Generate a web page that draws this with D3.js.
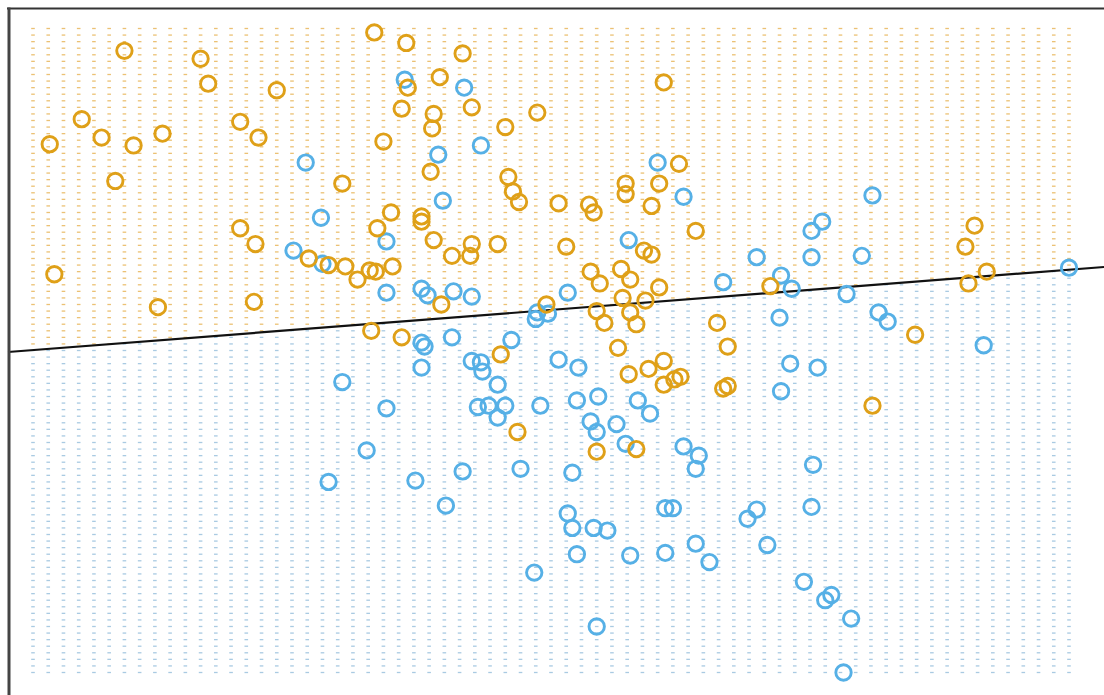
<!DOCTYPE html>
<html>
<head>
<meta charset="utf-8">
<script src="https://cdn.jsdelivr.net/npm/d3@7"></script>
<style>
  html, body { margin: 0; padding: 0; background: #fff; }
  svg { display: block; }
</style>
</head>
<body>
<svg id="chart" width="1104" height="695"></svg>
<script>
// Two-class mixture sample: X1 / X2 coordinates of each training point
const orangeX1 = [-0.36,-0.15,0.22,-2.00,-1.50,-1.45,-1.00,0.07,-0.14,1.54,
  -2.28,-2.15,-1.94,-1.75,-2.49,-1.24,-1.12,-0.18,0.03,0.02,
  0.28,0.71,0.50,-0.30,-2.06,-0.57,0.01,0.52,0.55,0.59,
  0.85,1.05,1.08,1.29,1.29,1.51,1.64,1.46,-0.25,-0.05,
  -0.05,-0.34,-1.24,-1.14,0.03,0.15,0.28,0.27,0.45,0.90,
  1.41,1.46,1.75,-2.46,-0.79,-0.66,-0.55,-0.47,-0.39,-0.35,
  -0.24,-1.78,-1.15,0.08,1.06,1.26,1.32,1.12,1.51,1.27,
  1.42,1.10,1.32,1.15,1.36,0.77,-0.38,-0.18,0.47,1.89,
  1.96,1.24,1.54,1.44,1.31,1.54,1.61,1.65,1.93,1.96,
  2.91,0.58,1.10,1.36,3.58,3.52,3.66,3.54,3.19,2.24];
const orangeX2 = [2.87,2.79,2.71,2.73,2.67,2.48,2.43,2.53,2.45,2.49,
  2.21,2.07,2.01,2.10,2.02,2.19,2.07,2.29,2.25,2.14,
  2.30,2.26,2.15,2.04,1.74,1.72,1.81,1.77,1.66,1.58,
  1.57,1.56,1.50,1.72,1.64,1.72,1.87,1.55,1.50,1.47,
  1.43,1.38,1.38,1.26,1.29,1.17,1.26,1.17,1.26,1.24,
  1.21,1.18,1.36,1.03,1.15,1.10,1.09,0.99,1.06,1.05,
  1.09,0.78,0.82,0.80,1.05,1.07,0.99,0.96,0.93,0.85,
  0.83,0.75,0.74,0.66,0.65,0.80,0.60,0.55,0.42,0.66,
  0.48,0.47,0.37,0.31,0.27,0.19,0.23,0.25,0.16,0.18,
  0.03,-0.17,-0.32,-0.30,1.40,1.24,1.05,0.96,0.57,0.94];

const blueX1 = [-0.16,0.23,-0.81,0.06,0.34,1.50,1.67,0.09,-0.71,-0.28,
  1.31,-0.89,2.91,2.58,2.51,2.15,2.51,2.84,2.31,1.93,
  2.38,2.74,4.20,-0.28,-0.05,-0.01,0.16,0.28,0.91,0.71,
  0.78,0.70,2.95,3.01,2.30,0.15,-0.05,-0.03,0.54,3.64,
  -0.05,-0.57,0.28,0.34,0.35,0.85,0.98,0.45,2.37,2.55,
  2.31,-0.28,0.32,0.39,0.50,0.73,0.97,1.11,1.37,1.45,
  0.45,1.06,1.10,1.23,1.29,1.67,1.77,1.75,-0.41,0.22,
  0.60,0.94,2.52,-0.66,-0.09,0.11,0.91,0.94,1.08,1.17,
  1.55,1.60,2.15,2.09,2.51,0.97,1.32,1.55,1.75,1.84,
  2.22,0.69,2.46,2.64,2.60,2.77,1.10,2.72,-0.70];
const blueX2 = [2.51,2.45,1.88,1.94,2.01,1.88,1.62,1.59,1.46,1.28,
  1.29,1.21,1.63,1.43,1.36,1.16,1.16,1.17,1.02,0.97,
  0.92,0.88,1.08,0.89,0.92,0.87,0.90,0.86,0.89,0.74,
  0.73,0.69,0.74,0.67,0.70,0.55,0.51,0.48,0.53,0.49,
  0.32,0.21,0.37,0.36,0.29,0.38,0.32,0.19,0.35,0.32,
  0.14,0.01,0.02,0.03,0.03,0.03,0.07,0.10,0.07,-0.03,
  -0.06,-0.09,-0.17,-0.11,-0.26,-0.28,-0.35,-0.45,-0.31,-0.47,
  -0.45,-0.48,-0.42,-0.55,-0.54,-0.73,-0.79,-0.90,-0.90,-0.92,
  -0.75,-0.75,-0.76,-0.83,-0.74,-1.10,-1.11,-1.09,-1.02,-1.16,
  -1.03,-1.24,-1.31,-1.41,-1.45,-1.59,-1.65,-2.00,1.11];

// Prediction grid extents (X1 step 0.1, X2 step 0.05)
const gridX1 = [-2.6, 4.2];
const gridX2 = [-2.0, 2.9];

// Linear-regression decision boundary: X2 = intercept + slope * X1
const boundaryIntercept = 0.687;
const boundarySlope = 0.0899;

const ORANGE = "#DFA018";
const BLUE = "#56B0E6";

const svg = d3.select("#chart");
const W = 1104, H = 695;

const x = d3.scaleLinear().domain(gridX1).range([33, 1069]);
const y = d3.scaleLinear().domain(gridX2).range([672.5, 28.5]);

const side = (a, b) => b > boundaryIntercept + boundarySlope * a;

// Grid of predicted classes
const cols = d3.range(69).map(i => gridX1[0] + i * 0.1);
const rows = d3.range(99).map(j => gridX2[0] + j * 0.05);
const grid = [];
cols.forEach(a => rows.forEach(b => grid.push([a, b])));

svg.append("g").attr("class", "grid")
  .selectAll("rect").data(grid).join("rect")
  .attr("x", d => x(d[0]) - 1.8)
  .attr("y", d => y(d[1]) - 0.65)
  .attr("width", 3.6)
  .attr("height", 1.3)
  .attr("fill", d => side(d[0], d[1]) ? "#E0A02A" : "#6FA6CF")
  .attr("fill-opacity", d => side(d[0], d[1]) ? 0.65 : 0.6);

// Decision boundary
const xl = x.invert(8), xr = x.invert(W);
svg.append("line")
  .attr("x1", x(xl)).attr("y1", y(boundaryIntercept + boundarySlope * xl))
  .attr("x2", x(xr)).attr("y2", y(boundaryIntercept + boundarySlope * xr))
  .attr("stroke", "#111").attr("stroke-width", 2.2);

// Training points
const bluePts = blueX1.map((v, i) => [v, blueX2[i]]);
const orangePts = orangeX1.map((v, i) => [v, orangeX2[i]]);

svg.append("g").selectAll("circle").data(bluePts).join("circle")
  .attr("cx", d => x(d[0])).attr("cy", d => y(d[1])).attr("r", 7.7)
  .attr("fill", "none").attr("stroke", BLUE).attr("stroke-width", 2.9);

svg.append("g").selectAll("circle").data(orangePts).join("circle")
  .attr("cx", d => x(d[0])).attr("cy", d => y(d[1])).attr("r", 7.7)
  .attr("fill", "none").attr("stroke", ORANGE).attr("stroke-width", 2.9);

// Panel frame (left and top edges)
svg.append("line").attr("x1", 7).attr("x2", W).attr("y1", 8.5).attr("y2", 8.5)
  .attr("stroke", "#333").attr("stroke-width", 2);
svg.append("line").attr("x1", 9).attr("x2", 9).attr("y1", 7.5).attr("y2", H)
  .attr("stroke", "#444").attr("stroke-width", 3);
</script>
</body>
</html>
